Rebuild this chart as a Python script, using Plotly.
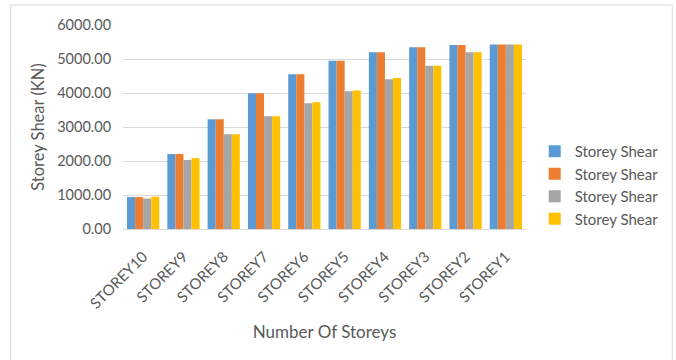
import plotly.graph_objects as go

# Storey shear (kN) for each storey, four load cases
storeys = ["STOREY10", "STOREY9", "STOREY8", "STOREY7", "STOREY6",
           "STOREY5", "STOREY4", "STOREY3", "STOREY2", "STOREY1"]
shear_a = [940, 2205, 3225, 3990, 4555, 4950, 5200, 5345, 5410, 5430]
shear_b = [940, 2205, 3225, 3990, 4555, 4950, 5200, 5345, 5410, 5430]
shear_c = [895, 2030, 2785, 3315, 3695, 4050, 4405, 4805, 5200, 5430]
shear_d = [950, 2085, 2785, 3315, 3725, 4075, 4440, 4805, 5200, 5430]

series_names = ["Storey Shear", "Storey Shear", "Storey Shear", "Storey Shear"]
colors = ["#5B9BD5", "#ED7D31", "#A5A5A5", "#FFC000"]
values = [shear_a, shear_b, shear_c, shear_d]

FONT = "Lato"
GREY_TEXT = "#595959"

fig = go.Figure()
for name, vals, col in zip(series_names, values, colors):
    fig.add_trace(go.Bar(x=storeys, y=vals, name=name, marker_color=col,
                         marker_line_width=0))

# plot area geometry in pixels
W, H = 676, 360
L, R, T, B = 123, 539, 25, 229
pw, ph = R - L, B - T

def px_x(p):
    return (p - L) / pw

def px_y(p):
    return (B - p) / ph

fig.update_layout(
    width=W, height=H,
    margin=dict(l=L, r=W - R, t=T, b=H - B),
    paper_bgcolor="white", plot_bgcolor="white",
    barmode="group", bargap=0.2, bargroupgap=0,
    font=dict(family=FONT, color=GREY_TEXT, size=13),
    showlegend=True,
    legend=dict(x=px_x(548), y=px_y(135), xanchor="left", yanchor="top",
                font=dict(size=15, color=GREY_TEXT, family=FONT),
                bgcolor="rgba(0,0,0,0)", tracegroupgap=0,
                itemwidth=30, itemsizing="constant"),
    xaxis=dict(tickangle=-45, showgrid=False, showline=False,
               ticks="outside", ticklen=12, tickcolor="rgba(0,0,0,0)",
               tickfont=dict(size=15, color=GREY_TEXT),
               title=dict(text="Number Of Storeys",
                          font=dict(size=17, color=GREY_TEXT), standoff=15)),
    yaxis=dict(range=[0, 6000], dtick=1000, tickformat=".2f",
               showgrid=True, gridcolor="#D9D9D9", gridwidth=1,
               zeroline=True, zerolinecolor="#D9D9D9", zerolinewidth=1,
               showline=False, ticks="outside", ticklen=8,
               tickcolor="rgba(0,0,0,0)",
               tickfont=dict(size=14.5, color=GREY_TEXT),
               title=dict(text="Storey Shear (KN)",
                          font=dict(size=16.5, color=GREY_TEXT), standoff=8)),
    shapes=[dict(type="rect", xref="paper", yref="paper",
                 x0=px_x(7), x1=px_x(690), y0=px_y(370), y1=px_y(5),
                 line=dict(color="#D9D9D9", width=1), layer="below")],
)

fig.write_html("out.html")
